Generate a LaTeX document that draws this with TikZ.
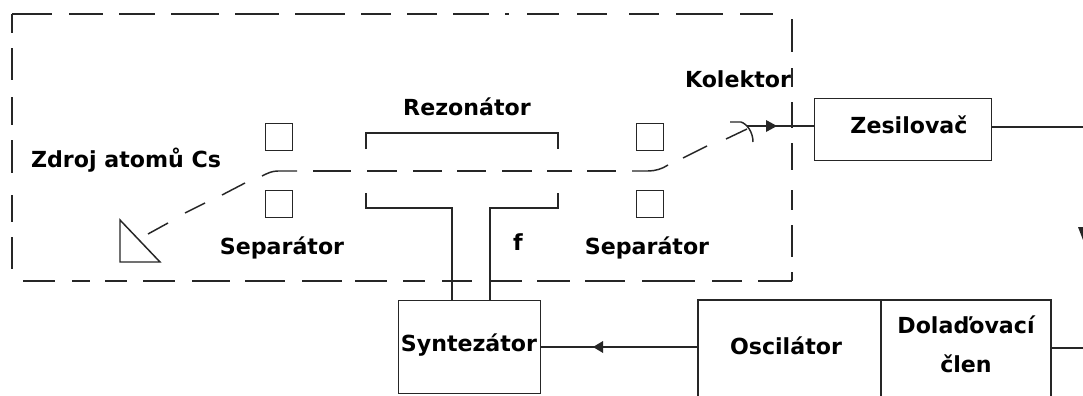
\documentclass[tikz,border=0pt]{standalone}
\usepackage{fontspec}
\setmainfont{DejaVu Sans}
\usetikzlibrary{arrows.meta}
\tikzset{
  ln/.style={draw=black!85,line width=1.1pt},
  dsh/.style={draw=black!85,line width=1.1pt},
  lbl/.style={font=\bfseries\fontsize{16.6}{19}\selectfont,text=black,inner sep=0pt,align=center,anchor=center},
  blockbox/.style={ln,fill=white,inner sep=0pt,minimum width=0pt,minimum height=0pt},
  sepbox/.style={blockbox,minimum width=20pt,minimum height=20pt}
}
\begin{document}
\begin{tikzpicture}[x=0.75pt,y=-0.75pt]
\useasboundingbox (0,0) rectangle (1083,396);
\fill[white] (0,0) rectangle (1083,396);
% dashed enclosure
\foreach \a/\b in {12/52,69/103,119/155,171/219,235/279,295/345,361/391,407/437,453/489,505/509,527/559,577/607,629/659,676/723,740/773}
  \draw[dsh] (\a,14) -- (\b,14);
\foreach \a/\b in {14/33,48/80,97/125,140/173,195/222,237/269}
  \draw[dsh] (12,\a) -- (12,\b);
\foreach \a/\b in {23/55,72/90,105/127,143/175,192/230,245/285,302/342,355/387,403/425,442/472,490/522,537/570,585/625,642/695,712/742,758/792}
  \draw[dsh] (\a,281) -- (\b,281);
\foreach \a/\b in {19/52,68/87,102/128,143/170,190/210,225/257,272/281}
  \draw[dsh] (792,\a) -- (792,\b);
% separators
\node[sepbox] (s1) at (279,137) {};
\node[sepbox] (s2) at (279,204) {};
\node[sepbox] (s3) at (650,137) {};
\node[sepbox] (s4) at (650,204) {};
% source
\draw[ln] (120,220) -- (120,262) -- (160,262) -- cycle;
% resonator
\draw[ln] (366,149) -- (366,133) -- (558,133) -- (558,149);
% blocks
\node[blockbox,minimum width=132.75pt,minimum height=46.5pt,anchor=north west] (zes) at (814,98) {};
\node[blockbox,minimum width=106.5pt,minimum height=69.75pt,anchor=north west] (syn) at (398,300) {};
\draw[ln] (366,193) -- (366,208) -- (452,208) -- (452,300);
\draw[ln] (558,193) -- (558,208) -- (490,208) -- (490,300);
% oscillator (runs off the bottom)
\draw[ln] (698,396) -- (698,300) -- (1051,300) -- (1051,396);
\draw[ln] (881,300) -- (881,396);
\coordinate (oscW) at (698,347);
\coordinate (colP) at (747,126);
\coordinate (zesOut) at (1083,127);
\coordinate (dolE) at (1051,348);
\coordinate (dolOut) at (1083,348);
% connectors
\draw[ln] (oscW) -- (syn.east |- oscW);
\fill[black!85] (593,347) -- (603,341) -- (603,353) -- cycle;
\draw[ln] (colP) -- (colP -| zes.west);
\fill[black!85] (777,126) -- (766,120) -- (766,132) -- cycle;
\draw[ln] (zes.east |- zesOut) -- (zesOut);
\draw[ln] (dolE) -- (dolOut);
% collector
\draw[ln] (730,122) -- (741,122) .. controls (747,124) and (753,132) .. (753,142);
% beam
\foreach \x/\y/\u/\v in {148/234/168/223,185/213/205/203,222/195/245/183,707/146/683/158,726/139/747/129}
  \draw[dsh] (\x,\y) -- (\u,\v);
\draw[dsh] (262,176) .. controls (268,173) and (272,171) .. (278,171) -- (297,171);
\foreach \a/\b in {313/351,367/397,413/442,457/486,502/532,547/572,587/616}
  \draw[dsh] (\a,171) -- (\b,171);
\draw[dsh] (632,171) -- (648,171) .. controls (655,171) and (662,169) .. (668,165);
% arrow stub at right edge
\fill[black!85] (1078,227) -- (1083,227) -- (1083,240) -- cycle;
% labels
\node[lbl] (t1) at (126,160) {Zdroj atomů Cs};
\node[lbl] (t2) at (282,248) {Separátor};
\node[lbl] (t3) at (467,107) {Rezonátor};
\node[lbl] (t4) at (647,248) {Separátor};
\node[lbl] (t5) at (518,242) {f};
\node[lbl] (t6) at (738,79) {Kolektor};
\node[lbl] (t7) at (909,125) {Zesilovač};
\node[lbl] (t8) at (469,345) {Syntezátor};
\node[lbl] (t9) at (786,346) {Oscilátor};
\node[lbl] (t10) at (966,325) {Dolaďovací};
\node[lbl] (t11) at (966,364) {člen};
\end{tikzpicture}
\end{document}
